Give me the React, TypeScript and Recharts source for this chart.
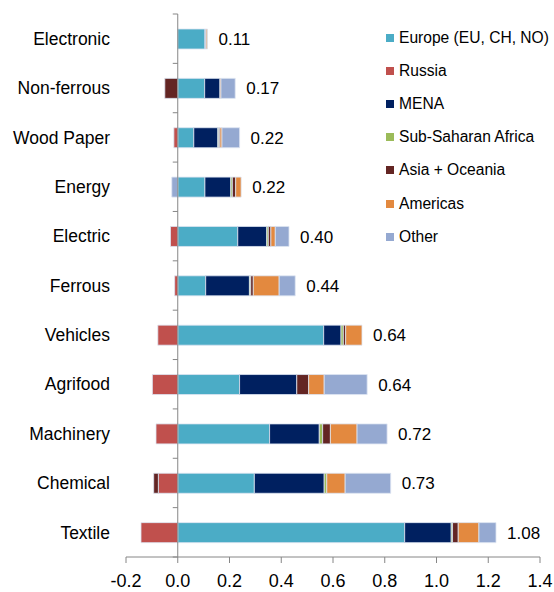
import { BarChart, Bar, XAxis, YAxis, ReferenceLine, LabelList } from "recharts";

const categories = [
  "Electronic",
  "Non-ferrous",
  "Wood Paper",
  "Energy",
  "Electric",
  "Ferrous",
  "Vehicles",
  "Agrifood",
  "Machinery",
  "Chemical",
  "Textile",
];

const europe = [0.105, 0.104, 0.062, 0.105, 0.232, 0.108, 0.564, 0.239, 0.355, 0.296, 0.877];
const russia = [0, 0, -0.015, 0, -0.028, -0.012, -0.077, -0.098, -0.084, -0.075, -0.142];
const mena = [0.003, 0.059, 0.093, 0.1, 0.112, 0.169, 0.067, 0.221, 0.192, 0.27, 0.18];
const subSaharan = [0, 0, 0.004, 0.006, 0.006, 0.005, 0.009, 0, 0.013, 0.01, 0.005];
const asia = [0.002, -0.05, 0.004, 0.013, 0.01, 0.01, 0.009, 0.046, 0.03, -0.018, 0.022];
const americas = [0.005, 0.004, 0.008, 0.021, 0.017, 0.1, 0.063, 0.06, 0.103, 0.071, 0.08];
const other = [0, 0.055, 0.068, -0.023, 0.053, 0.062, 0, 0.166, 0.116, 0.176, 0.066];
const totals = [0.11, 0.17, 0.22, 0.22, 0.4, 0.44, 0.64, 0.64, 0.72, 0.73, 1.08];

const xTicks = [-0.2, 0, 0.2, 0.4, 0.6, 0.8, 1.0, 1.2, 1.4];

const series = [
  { key: "europe", name: "Europe (EU, CH, NO)", color: "#4BACC6", values: europe },
  { key: "russia", name: "Russia", color: "#C0504D", values: russia },
  { key: "mena", name: "MENA", color: "#002060", values: mena },
  { key: "ssa", name: "Sub-Saharan Africa", color: "#9BBB59", values: subSaharan },
  { key: "asia", name: "Asia + Oceania", color: "#632523", values: asia },
  { key: "americas", name: "Americas", color: "#E3893F", values: americas },
  { key: "other", name: "Other", color: "#95A9D1", values: other },
];

const data = categories.map((name, i) => {
  const row: Record<string, number | string> = { name, total: totals[i] };
  series.forEach((s) => {
    row[s.key] = s.values[i];
  });
  return row;
});

const font = '"Liberation Sans", Arial, sans-serif';
const axisColor = "#868686";

// total label placed after the positive end of each stack
function TotalLabel(props: any) {
  const { x, y, width, height, index } = props;
  const pxPerUnit = width / europe[index];
  let pos = 0;
  series.forEach((s) => {
    if (s.values[index] > 0) pos += s.values[index];
  });
  const endX = x + pos * pxPerUnit;
  return (
    <text
      x={endX + 11}
      y={y + height / 2}
      dy="0.36em"
      fontSize={17}
      fontFamily={font}
      fill="#000"
    >
      {totals[index].toFixed(2)}
    </text>
  );
}

function ZeroLine(props: any) {
  const { x1, y1, y2 } = props;
  const n = categories.length;
  const marks = [];
  for (let i = 0; i <= n; i++) {
    const yy = y1 + ((y2 - y1) * i) / n;
    marks.push(<line key={i} x1={x1 - 5} x2={x1} y1={yy} y2={yy} stroke={axisColor} strokeWidth={1} />);
  }
  return (
    <g>
      <line x1={x1} x2={x1} y1={y1} y2={y2} stroke={axisColor} strokeWidth={1} />
      {marks}
    </g>
  );
}

export default function App() {
  return (
    <div style={{ position: "absolute", left: 0, top: 0, width: 554, height: 592, background: "#fff" }}>
      <BarChart
        width={554}
        height={592}
        data={data}
        layout="vertical"
        stackOffset="sign"
        barSize={20}
        margin={{ top: 14, right: 14, bottom: 5, left: 0 }}
      >
        <XAxis
          type="number"
          domain={[-0.2, 1.4]}
          ticks={xTicks}
          tickFormatter={(v: number) => v.toFixed(1)}
          axisLine={{ stroke: axisColor }}
          tickLine={{ stroke: axisColor }}
          tickSize={6}
          tickMargin={11}
          height={30}
          tick={{ fill: "#000", fontSize: 18, fontFamily: font }}
          interval={0}
        />
        <YAxis
          type="category"
          dataKey="name"
          width={126}
          axisLine={false}
          tickLine={false}
          tickSize={0}
          tickMargin={16}
          tick={{ fill: "#000", fontSize: 17.5, fontFamily: font }}
          interval={0}
        />
        {series.map((s) => (
          <Bar
            key={s.key}
            dataKey={s.key}
            name={s.name}
            stackId="a"
            fill={s.color}
            stroke="#dde4f1"
            strokeWidth={0.8}
            isAnimationActive={false}
          >
            {s.key === "europe" && <LabelList dataKey="total" content={TotalLabel} />}
          </Bar>
        ))}
        <ReferenceLine x={0} stroke={axisColor} shape={ZeroLine} />
      </BarChart>
      <div
        style={{
          position: "absolute",
          left: 386,
          top: 21,
          fontFamily: font,
          fontSize: 15.6,
          color: "#000",
        }}
      >
        {series.map((s) => (
          <div key={s.key} style={{ display: "flex", alignItems: "center", height: 33.2 }}>
            <span
              style={{
                display: "inline-block",
                width: 8,
                height: 8,
                background: s.color,
                marginRight: 5,
              }}
            />
            <span style={{ whiteSpace: "nowrap" }}>{s.name}</span>
          </div>
        ))}
      </div>
    </div>
  );
}
